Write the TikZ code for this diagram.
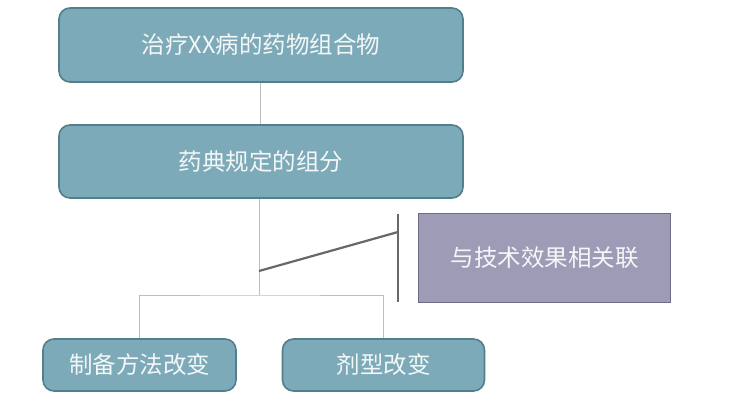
\documentclass[tikz,border=0pt]{standalone}
\usepackage{fontspec}
\newfontfamily\cjk{Noto Sans CJK SC}
\definecolor{tealfill}{HTML}{7DAAB8}
\definecolor{tealdraw}{HTML}{537E8B}
\definecolor{purfill}{HTML}{9E9BB6}
\definecolor{purdraw}{HTML}{6E6C85}
\definecolor{lightline}{HTML}{BDBDBD}
\definecolor{darkline}{HTML}{686868}
\definecolor{txt}{HTML}{F4F7F8}
\begin{document}
\begin{tikzpicture}[x=1pt,y=-1pt,
  tealbox/.style={draw=tealdraw,line width=1.6pt,fill=tealfill,rounded corners=11pt,inner sep=0pt,
    text=txt,font=\cjk\fontsize{23.5}{27}\selectfont},
  purbox/.style={draw=purdraw,line width=1.6pt,fill=purfill,inner sep=0pt,
    text=txt,font=\cjk\fontsize{23.5}{27}\selectfont},
  thin/.style={draw=lightline,line width=1pt},
  thick/.style={draw=darkline,line width=2.2pt}]
\useasboundingbox[fill=white] (0,0) rectangle (730,407);
\node[tealbox,minimum width=404pt,minimum height=74pt] (a) at (261,45) {治疗XX病的药物组合物};
\node[tealbox,minimum width=404pt,minimum height=73pt] (b) at (261,161.5) {药典规定的组分};
\node[purbox,minimum width=252pt,minimum height=89pt] (p) at (544.5,258) {与技术效果相关联};
\node[tealbox,minimum width=193pt,minimum height=52pt] (c) at (139.5,365) {制备方法改变};
\node[tealbox,minimum width=202pt,minimum height=52pt] (d) at (383.5,365) {剂型改变};
\coordinate (j) at (259,295);
\coordinate (s) at (259,271);
\coordinate (t) at (398,232);
\coordinate (bt) at (398,214);
\coordinate (bb) at (398,302);
\draw[thin] (a.south -| 260,0) -- (b.north -| 260,0);
\draw[thin] (b.south -| j) -- (j);
\draw[thin] (c.north -| 139,0) |- (j) -| (d.north -| 383,0);
\draw[thick] (s) -- (t);
\draw[thick] (bt) -- (bb);
\end{tikzpicture}
\end{document}
